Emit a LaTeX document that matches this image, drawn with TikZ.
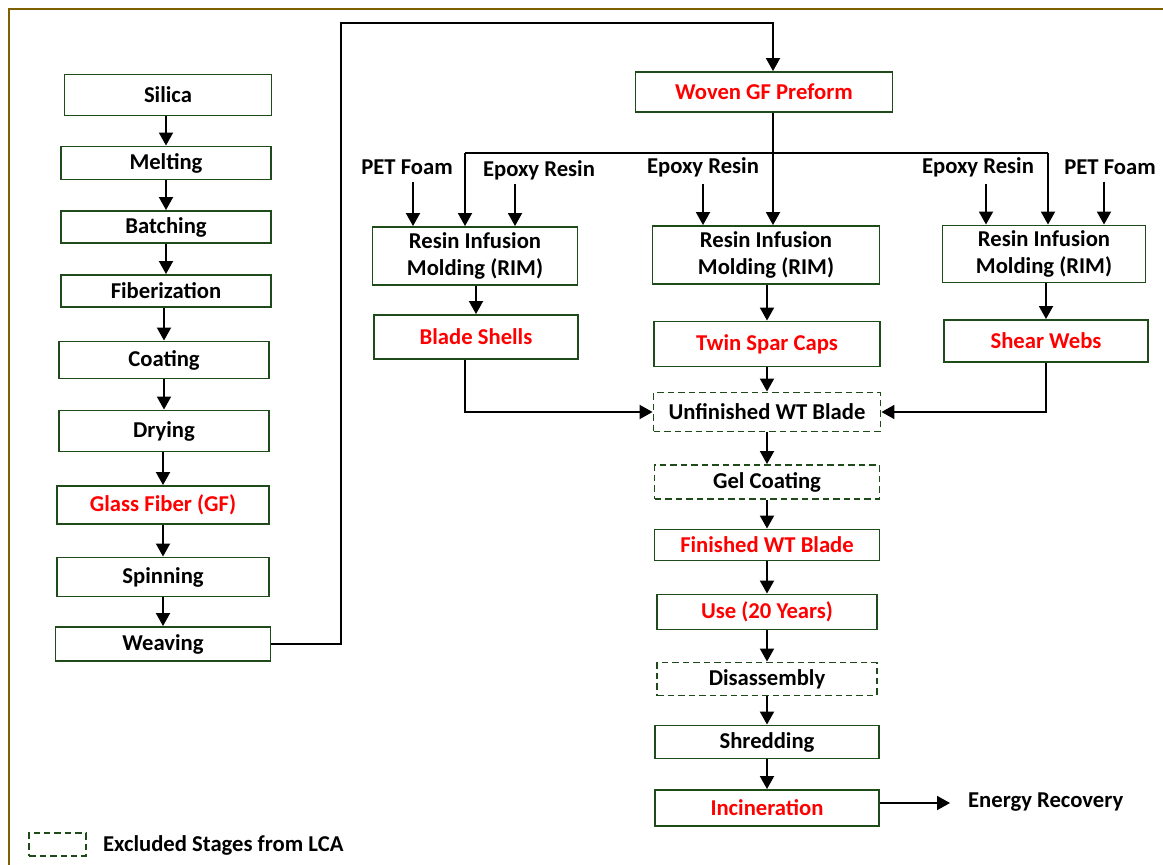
\documentclass[tikz,border=0pt]{standalone}
\usepackage{fontspec}
\setmainfont{Carlito}
\usetikzlibrary{arrows.meta}
\definecolor{boxgreen}{HTML}{1F4A1A}
\definecolor{frameolive}{HTML}{7F6000}
\tikzset{
  stage/.style={draw=boxgreen, line width=1.1pt, fill=white, inner sep=1pt, align=center,
    font=\fontsize{12.9}{15.5}\selectfont\bfseries},
  product/.style={stage, text=red},
  excl/.style={dash pattern=on 0.13cm off 0.08cm},
  lbl/.style={font=\fontsize{12.9}{15}\selectfont\bfseries, inner sep=1pt},
  arr/.style={line width=1.1pt, -{Triangle[width=0.28cm,length=0.26cm]}},
  link/.style={line width=1.1pt},
}
\begin{document}
\begin{tikzpicture}[x=0.02cm,y=-0.02cm]
\useasboundingbox (0,0) rectangle (1163,865);
\draw[frameolive, line width=1.7pt] (9,865) -- (9,9) -- (1163,9);
% glass fibre production
\node[stage, minimum width=4.14cm, minimum height=0.82cm] (silica) at (168,95) {Silica};
\node[stage, minimum width=4.2cm, minimum height=0.66cm] (melting) at (166,163) {Melting};
\node[stage, minimum width=4.2cm, minimum height=0.64cm] (batching) at (166,227) {Batching};
\node[stage, minimum width=4.2cm, minimum height=0.64cm] (fiber) at (166,291) {Fiberization};
\node[stage, minimum width=4.2cm, minimum height=0.74cm] (coating) at (164,360) {Coating};
\node[stage, minimum width=4.2cm, minimum height=0.82cm] (drying) at (164,431) {Drying};
\node[product, minimum width=4.24cm, minimum height=0.76cm] (gf) at (163,505) {Glass Fiber (GF)};
\node[stage, minimum width=4.24cm, minimum height=0.78cm] (spinning) at (163,577) {Spinning};
\node[stage, minimum width=4.3cm, minimum height=0.68cm] (weaving) at (163,644) {Weaving};
\foreach \a/\b in {silica/melting, melting/batching, batching/fiber, fiber/coating,
  coating/drying, drying/gf, gf/spinning, spinning/weaving}
  \draw[arr] (\a.south -| \b.north) -- (\b.north);
% blade manufacturing
\node[product, minimum width=5.14cm, minimum height=0.8cm] (preform) at (764,92) {Woven GF Preform};
\coordinate (top) at (341,23);
\coordinate (split) at (773,153);
\coordinate (brL) at (465,153);
\coordinate (brR) at (1048,153);
\draw[arr] (weaving.east) -| (top) -| (split |- preform.north);
\draw[link] (split |- preform.south) -- (split);
\draw[link] (brL) -- (brR);
\node[stage, minimum width=4.1cm, minimum height=1.16cm] (rimA) at (475,256) {Resin Infusion\\Molding (RIM)};
\node[stage, minimum width=4.54cm, minimum height=1.16cm] (rimB) at (766,255) {Resin Infusion\\Molding (RIM)};
\node[stage, minimum width=4.06cm, minimum height=1.14cm] (rimC) at (1044,254) {Resin Infusion\\Molding (RIM)};
\draw[arr] (brL) -- (brL |- rimA.north);
\draw[arr] (split) -- (split |- rimB.north);
\draw[arr] (brR) -- (brR |- rimC.north);
\node[lbl] (petA) at (407,167) {PET Foam};
\node[lbl] (epoxyA) at (539,170) {Epoxy Resin};
\node[lbl] (epoxyB) at (703,167) {Epoxy Resin};
\node[lbl] (epoxyC) at (978,167) {Epoxy Resin};
\node[lbl] (petC) at (1110,167) {PET Foam};
\draw[arr] ([xshift=0.12cm,yshift=-0.1cm]petA.south) -- ([xshift=0.12cm]petA.south |- rimA.north);
\draw[arr] ([xshift=-0.48cm,yshift=-0.04cm]epoxyA.south) -- ([xshift=-0.48cm]epoxyA.south |- rimA.north);
\draw[arr] ([yshift=-0.1cm]epoxyB.south) -- (epoxyB.south |- rimB.north);
\draw[arr] ([xshift=0.16cm,yshift=-0.1cm]epoxyC.south) -- ([xshift=0.16cm]epoxyC.south |- rimC.north);
\draw[arr] ([xshift=-0.12cm,yshift=-0.1cm]petC.south) -- ([xshift=-0.12cm]petC.south |- rimC.north);
\node[product, minimum width=4.08cm, minimum height=0.88cm] (shells) at (476,337) {Blade Shells};
\node[product, minimum width=4.52cm, minimum height=0.9cm] (spars) at (767,344) {Twin Spar Caps};
\node[product, minimum width=4.08cm, minimum height=0.84cm] (webs) at (1046,341) {Shear Webs};
\draw[arr] (rimA.south -| shells.north) -- (shells.north);
\draw[arr] (rimB.south -| spars.north) -- (spars.north);
\draw[arr] (rimC.south -| webs.north) -- (webs.north);
% life cycle of the blade
\node[stage, excl, minimum width=4.54cm, minimum height=0.78cm] (unfinished) at (767,412) {Unfinished WT Blade};
\node[stage, excl, minimum width=4.5cm, minimum height=0.68cm] (gel) at (767,482) {Gel Coating};
\node[product, minimum width=4.5cm, minimum height=0.62cm] (finished) at (767,545) {Finished WT Blade};
\node[product, minimum width=4.4cm, minimum height=0.7cm] (use) at (767,612) {Use (20 Years)};
\node[stage, excl, minimum width=4.4cm, minimum height=0.66cm] (disasm) at (767,679) {Disassembly};
\node[stage, minimum width=4.48cm, minimum height=0.66cm] (shred) at (767,742) {Shredding};
\node[product, minimum width=4.48cm, minimum height=0.72cm] (incin) at (767,808) {Incineration};
\draw[arr] ([xshift=-0.22cm]shells.south) |- (unfinished.west);
\draw[arr] (webs.south) |- (unfinished.east);
\foreach \a/\b in {spars/unfinished, unfinished/gel, gel/finished, finished/use,
  use/disasm, disasm/shred, shred/incin}
  \draw[arr] (\a.south) -- (\b.north);
\node[lbl, anchor=west] (energy) at (966,802) {Energy Recovery};
\coordinate (incout) at ([yshift=0.1cm]incin.east);
\coordinate (enin) at ([xshift=-0.32cm]energy.west);
\draw[arr] (incout) -- (incout -| enin);
% legend
\node[stage, excl, minimum width=1.14cm, minimum height=0.46cm] (legbox) at (57.5,844.5) {};
\node[lbl, anchor=west] (legtext) at (101,845) {Excluded Stages from LCA};
\end{tikzpicture}
\end{document}
